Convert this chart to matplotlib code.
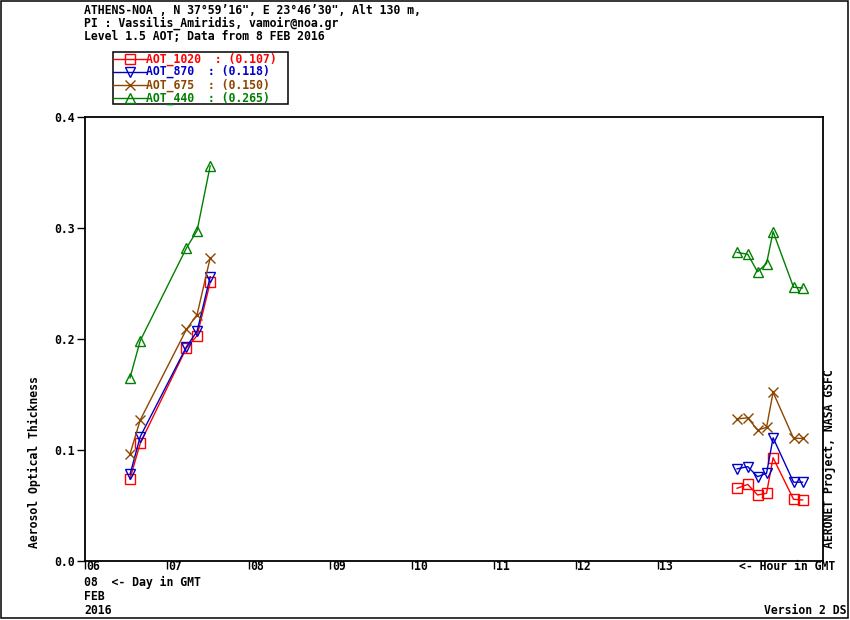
import matplotlib
matplotlib.use("Agg")
import matplotlib.pyplot as plt
from matplotlib.lines import Line2D
from matplotlib.patches import Rectangle
import matplotlib.transforms as mtransforms

# ---- data ----
hours = [6.55, 6.675, 7.24, 7.37, 7.53, 13.97, 14.10, 14.22, 14.33, 14.41, 14.66, 14.77]
aot_1020 = [0.074, 0.106, 0.192, 0.203, 0.251, 0.0655, 0.069, 0.0595, 0.061, 0.093, 0.0556, 0.055]
aot_870 = [0.078, 0.112, 0.193, 0.207, 0.256, 0.083, 0.085, 0.076, 0.079, 0.111, 0.071, 0.071]
aot_675 = [0.0964, 0.127, 0.2087, 0.222, 0.273, 0.128, 0.129, 0.118, 0.1204, 0.152, 0.1105, 0.1105]
aot_440 = [0.165, 0.1985, 0.282, 0.2976, 0.356, 0.278, 0.2763, 0.2606, 0.268, 0.2967, 0.2466, 0.246]
gap_start = 7.53  # segments broken between the two groups
series_names = ["AOT_1020  ", "AOT_870  ", "AOT_675  ", "AOT_440  "]
series_means = ["0.107", "0.118", "0.150", "0.265"]
xtick_vals = [6, 7, 8, 9, 10, 11, 12, 13]
xtick_labels = ["06", "07", "08", "09", "10", "11", "12", "13"]
ytick_vals = [0.0, 0.1, 0.2, 0.3, 0.4]
ytick_labels = ["0.0", "0.1", "0.2", "0.3", "0.4"]

colors = ["#ff0000", "#0000c8", "#8c4600", "#008000"]
markers = ["s", "v", "x", "^"]

W, H = 850, 620
FONT = "DejaVu Sans Mono"
FS = 8.3

fig = plt.figure(figsize=(W / 100, H / 100), dpi=100)
fig.patch.set_facecolor("white")

def fx(px):
    return px / W

def fy(py):
    return 1 - py / H

ax = fig.add_axes([fx(85), fy(561), (823 - 85) / W, (561 - 117) / H])
ax.set_xlim(6, 15.02)
ax.set_ylim(0, 0.4)

all_series = [aot_1020, aot_870, aot_675, aot_440]
for vals, c, m in zip(all_series, colors, markers):
    left_x = [h for h in hours if h <= gap_start]
    left_y = [v for h, v in zip(hours, vals) if h <= gap_start]
    right_x = [h for h in hours if h > gap_start]
    right_y = [v for h, v in zip(hours, vals) if h > gap_start]
    for xs, ys in ((left_x, left_y), (right_x, right_y)):
        ax.plot(xs, ys, color=c, lw=1.0, marker=m, markersize=6.5,
                markerfacecolor="none", markeredgecolor=c, markeredgewidth=1.0,
                clip_on=False)

for sp in ax.spines.values():
    sp.set_linewidth(1.3)

ax.set_xticks(xtick_vals)
ax.set_xticklabels(xtick_labels, fontfamily=FONT, fontweight="bold", fontsize=FS)
ax.set_yticks(ytick_vals)
ax.set_yticklabels(ytick_labels, fontfamily=FONT, fontweight="bold", fontsize=FS)
ax.tick_params(axis="x", direction="out", length=5.8, width=1, pad=-6.5)
ax.tick_params(axis="y", direction="out", length=5.8, width=1, pad=1.5)
offset = mtransforms.ScaledTranslation(1.5 / 100, 0, fig.dpi_scale_trans)
for lbl in ax.get_xticklabels():
    lbl.set_horizontalalignment("left")
    lbl.set_transform(lbl.get_transform() + offset)

tkw = dict(fontfamily=FONT, fontweight="bold", fontsize=FS, color="black")

# header
fig.text(fx(84), fy(10), "ATHENS-NOA , N 37\u00b059\u201916\", E 23\u00b046\u201930\", Alt 130 m,", va="center", ha="left", **tkw)
fig.text(fx(84), fy(23), "PI : Vassilis_Amiridis, vamoir@noa.gr", va="center", ha="left", **tkw)
fig.text(fx(84), fy(36), "Level 1.5 AOT; Data from 8 FEB 2016", va="center", ha="left", **tkw)

# legend
fig.add_artist(Rectangle((fx(112.5), fy(104)), (287.5 - 112.5) / W, (104 - 52) / H,
                         transform=fig.transFigure, fill=False, edgecolor="black", lw=1.1))
rows = [59.3, 71.7, 85, 98.3]
for name, mean, c, m, ry in zip(series_names, series_means, colors, markers, rows):
    fig.add_artist(Line2D([fx(112.5), fx(146)], [fy(ry), fy(ry)], transform=fig.transFigure,
                          color=c, lw=1.0))
    fig.add_artist(Line2D([fx(130)], [fy(ry)], transform=fig.transFigure, color=c,
                          marker=m, markersize=7.5, markerfacecolor="none",
                          markeredgecolor=c, markeredgewidth=1.0, linestyle="none"))
    fig.text(fx(146), fy(ry), f"{name}: ({mean})", va="center", ha="left",
             fontfamily=FONT, fontweight="bold", fontsize=FS, color=c)

# axis texts
fig.text(fx(34), fy(548), "Aerosol Optical Thickness", rotation=90, ha="center", va="bottom", **tkw)
fig.text(fx(829), fy(548), "AERONET Project, NASA GSFC", rotation=90, ha="center", va="bottom", **tkw)
fig.text(fx(739), fy(566), "<- Hour in GMT", ha="left", va="center", **tkw)
fig.text(fx(84), fy(582), "08  <- Day in GMT", ha="left", va="center", **tkw)
fig.text(fx(84), fy(597), "FEB", ha="left", va="center", **tkw)
fig.text(fx(84), fy(611), "2016", ha="left", va="center", **tkw)
fig.text(fx(846), fy(611), "Version 2 DS", ha="right", va="center", **tkw)

# outer border
fig.add_artist(Rectangle((fx(1), fy(618)), (848 - 1) / W, (618 - 1) / H,
                         transform=fig.transFigure, fill=False, edgecolor="black", lw=1.1))

fig.savefig("out.png", dpi=100, facecolor="white")
